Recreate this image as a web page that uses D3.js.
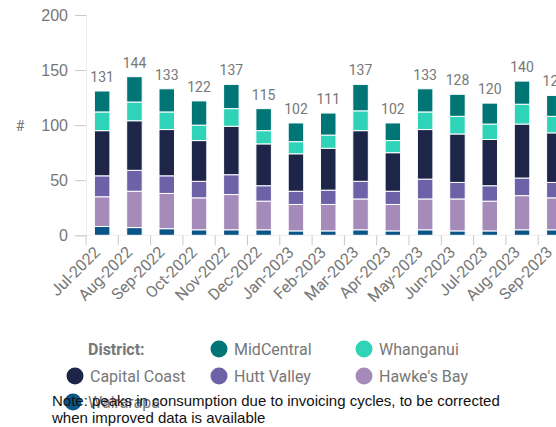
<!DOCTYPE html>
<html>
<head>
<meta charset="utf-8">
<script src="https://cdn.jsdelivr.net/npm/d3@7"></script>
<style>
  body { margin: 0; background: #fff; }
  svg { font-family: Roboto, "Noto Sans", sans-serif; display: block; }
</style>
</head>
<body>
<svg width="556" height="427"></svg>
<script>
// Data
const months = ["Jul-2022", "Aug-2022", "Sep-2022", "Oct-2022", "Nov-2022", "Dec-2022",
  "Jan-2023", "Feb-2023", "Mar-2023", "Apr-2023", "May-2023", "Jun-2023",
  "Jul-2023", "Aug-2023", "Sep-2023"];

const wairarapa    = [8, 7, 6, 5, 5, 5, 4, 4, 5, 4, 5, 4, 4, 5, 5];
const hawkesBay    = [27, 33, 32, 29, 32, 26, 24, 24, 28, 24, 28, 29, 27, 31, 29];
const huttValley   = [19, 19, 16, 15, 18, 14, 12, 13, 16, 12, 18, 15, 14, 16, 14];
const capitalCoast = [41, 45, 42, 37, 44, 38, 34, 38, 46, 35, 45, 44, 42, 49, 45];
const whanganui    = [17, 17, 16, 14, 16, 12, 11, 12, 18, 11, 16, 16, 14, 18, 15];
const midCentral   = [19, 23, 21, 22, 22, 20, 17, 20, 24, 16, 21, 20, 19, 21, 19];

const yTicks = [0, 50, 100, 150, 200];

// series in stacking order (bottom first)
const series = [
  { name: "Wairarapa", values: wairarapa, color: "#0a5588" },
  { name: "Hawke's Bay", values: hawkesBay, color: "#a58bb9" },
  { name: "Hutt Valley", values: huttValley, color: "#6d62a8" },
  { name: "Capital Coast", values: capitalCoast, color: "#1d2549" },
  { name: "Whanganui", values: whanganui, color: "#2ed3b8" },
  { name: "MidCentral", values: midCentral, color: "#007576" }
];

const svg = d3.select("svg");

const rows = months.map((m, i) => {
  const r = { month: m };
  series.forEach(s => r[s.name] = s.values[i]);
  return r;
});

const stack = d3.stack().keys(series.map(s => s.name));
const stacked = stack(rows);

const x = d3.scaleBand()
    .domain(months)
    .range([86, 86 + 32.3 * months.length])
    .paddingInner(0.52)
    .paddingOuter(0.26);

const y = d3.scaleLinear()
    .domain([0, 200])
    .range([235.3, 15]);

const color = d3.scaleOrdinal()
    .domain(series.map(s => s.name))
    .range(series.map(s => s.color));

// Y axis
const yAxis = svg.append("g")
    .attr("transform", "translate(86,0)")
    .call(d3.axisLeft(y).tickValues(yTicks).tickSize(11).tickPadding(7));
yAxis.select(".domain").attr("stroke", "#eeeeee");
yAxis.selectAll(".tick line").attr("stroke", "#c8c8c8");
yAxis.selectAll(".tick text")
    .attr("fill", "#777")
    .style("font-size", "16px");

// X axis
const xBoundaries = d3.scaleLinear().domain([0, months.length]).range(x.range());
const xAxis = svg.append("g")
    .attr("transform", "translate(0,235.3)");
xAxis.append("line")
    .attr("x1", 86).attr("x2", 556)
    .attr("stroke", "#eeeeee");
xAxis.selectAll(".bound")
    .data(d3.range(months.length))
    .join("line")
    .attr("x1", d => xBoundaries(d)).attr("x2", d => xBoundaries(d))
    .attr("y1", 0).attr("y2", 10)
    .attr("stroke", "#c8c8c8");
xAxis.selectAll(".lbl")
    .data(months)
    .join("text")
    .attr("transform", d => `translate(${x(d) + x.bandwidth() / 2 - 5},${14}) rotate(-45)`)
    .attr("text-anchor", "end")
    .attr("dy", "0.35em")
    .attr("fill", "#777")
    .style("font-size", "16px")
    .text(d => d);

// y title
svg.append("text")
    .attr("x", 20).attr("y", 131)
    .attr("text-anchor", "middle")
    .attr("fill", "#777")
    .style("font-size", "14px")
    .text("#");

// Bars
svg.append("g")
  .selectAll("g")
  .data(stacked)
  .join("g")
    .attr("fill", d => color(d.key))
  .selectAll("rect")
  .data(d => d)
  .join("rect")
    .attr("x", d => x(d.data.month))
    .attr("y", d => y(d[1]))
    .attr("width", x.bandwidth())
    .attr("height", d => y(d[0]) - y(d[1]))
    .attr("stroke", "#fff")
    .attr("stroke-width", 1);

// Totals
const totals = rows.map((r, i) => d3.sum(series, s => s.values[i]));
svg.append("g")
  .selectAll("text")
  .data(months)
  .join("text")
    .attr("x", d => x(d) + x.bandwidth() / 2)
    .attr("y", (d, i) => y(totals[i]) - 9)
    .attr("text-anchor", "middle")
    .attr("fill", "#777")
    .style("font-size", "14px")
    .text((d, i) => totals[i]);

// Legend
const legend = svg.append("g");
legend.append("text")
    .attr("x", 88).attr("y", 355)
    .attr("fill", "#777")
    .style("font-size", "16px")
    .style("font-weight", "bold")
    .text("District:");

const legendItems = [
  { name: "MidCentral", cx: 219, cy: 349 },
  { name: "Whanganui", cx: 364, cy: 349 },
  { name: "Capital Coast", cx: 75, cy: 376 },
  { name: "Hutt Valley", cx: 219, cy: 376 },
  { name: "Hawke's Bay", cx: 364, cy: 376 },
  { name: "Wairarapa", cx: 73, cy: 402 }
];
const li = legend.selectAll(".item")
    .data(legendItems)
    .join("g");
li.append("circle")
    .attr("cx", d => d.cx).attr("cy", d => d.cy)
    .attr("r", 8.5)
    .attr("fill", d => color(d.name));
li.append("text")
    .attr("x", d => d.cx + 15).attr("y", d => d.cy + 6)
    .attr("fill", "#777")
    .style("font-size", "16px")
    .text(d => d.name);

// Note (overlaps the last legend row, as in the source)
const note = svg.append("text")
    .attr("fill", "#111")
    .style("font-family", "Arial, 'Liberation Sans', sans-serif")
    .style("font-size", "15px");
note.append("tspan").attr("x", 52).attr("y", 406)
    .text("Note: peaks in consumption due to invoicing cycles, to be corrected");
note.append("tspan").attr("x", 52).attr("y", 423)
    .text("when improved data is available");
</script>
</body>
</html>
